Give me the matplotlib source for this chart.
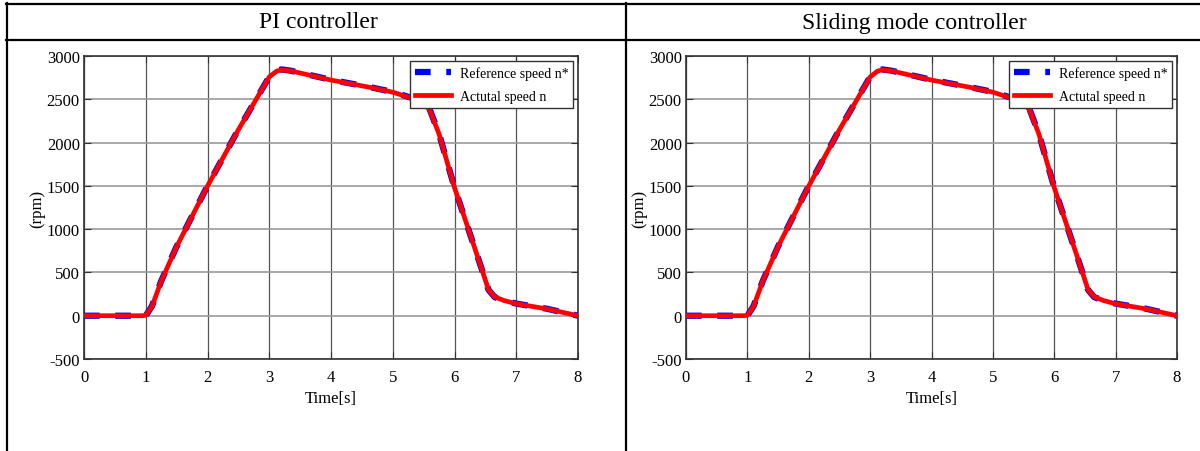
import matplotlib.pyplot as plt
from matplotlib.lines import Line2D
import numpy as np

# speed profile (same for both controllers)
time = [0, 0.5, 0.95, 1.0, 1.1, 1.25, 1.5, 2.0, 2.5, 3.0, 3.12, 3.2, 3.35, 4.0,
        4.63, 5.0, 5.42, 5.5, 5.6, 5.75, 6.0, 6.45, 6.55, 6.65, 6.8, 7.0, 7.5, 8.0]
ref_speed = [0, 0, 0, 0, 110, 400, 800, 1500, 2150, 2760, 2830, 2845, 2830, 2725,
             2640, 2585, 2490, 2460, 2380, 2100, 1480, 520, 300, 215, 175, 140, 80, 0]
act_speed = [0, 0, 0, 5, 105, 398, 798, 1498, 2148, 2758, 2825, 2840, 2828, 2722,
             2638, 2582, 2486, 2455, 2375, 2098, 1480, 520, 302, 218, 176, 138, 78, 0]

titles = ['PI controller', 'Sliding mode controller']
yticks = [-500, 0, 500, 1000, 1500, 2000, 2500, 3000]
xticks = [0, 1, 2, 3, 4, 5, 6, 7, 8]

plt.rcParams['font.family'] = ['Liberation Serif', 'DejaVu Serif']
plt.rcParams['axes.unicode_minus'] = False

fig = plt.figure(figsize=(12, 4.52), dpi=100)

# table borders
W, H = 1200.0, 452.0
def hline(y, x0, x1):
    fig.add_artist(Line2D([x0 / W, x1 / W], [1 - y / H, 1 - y / H], color='black', lw=1.6))
def vline(x, y0, y1):
    fig.add_artist(Line2D([x / W, x / W], [1 - y0 / H, 1 - y1 / H], color='black', lw=1.6))

hline(5, 6, 1200)
hline(41, 6, 1200)
vline(7, 4, 452)
vline(626, 4, 452)

fig.text(318 / W, 1 - 23 / H, titles[0], ha='center', va='center', fontsize=17)
fig.text(914 / W, 1 - 23 / H, titles[1], ha='center', va='center', fontsize=17)

axes_px = [(84, 578), (686, 1177)]
for (x0, x1) in axes_px:
    ax = fig.add_axes([x0 / W, 1 - 360 / H, (x1 - x0) / W, (360 - 57) / H])
    ax.plot(time, ref_speed, color='blue', lw=4.5, dashes=(2.5, 2.5),
            label='Reference speed n*', zorder=3)
    ax.plot(time, act_speed, color='red', lw=3.4, label='Actutal speed n', zorder=4)
    ax.set_xlim(0, 8)
    ax.set_ylim(-500, 3000)
    ax.set_xticks(xticks)
    ax.set_yticks(yticks)
    ax.grid(axis='x', color='#555555', lw=0.9)
    ax.grid(axis='y', color='#999999', lw=1.2)
    ax.tick_params(direction='in', top=True, right=True, length=5, labelsize=12,
                   color='#333333')
    ax.tick_params(axis='x', pad=7)
    ax.tick_params(axis='y', pad=3)
    for sp in ax.spines.values():
        sp.set_color('#333333')
        sp.set_linewidth(1.2)
    ax.set_xlabel('Time[s]', fontsize=12, labelpad=4)
    ax.set_ylabel('(rpm)', fontsize=12, labelpad=1)
    leg = ax.legend(loc='upper right', fontsize=10, frameon=True, fancybox=False,
                    edgecolor='#333333', framealpha=1, handlelength=2.6,
                    borderaxespad=0.35, borderpad=0.35, labelspacing=0.75,
                    handletextpad=0.6)
    leg.get_frame().set_linewidth(1.0)

fig.savefig('out.png', dpi=100)
